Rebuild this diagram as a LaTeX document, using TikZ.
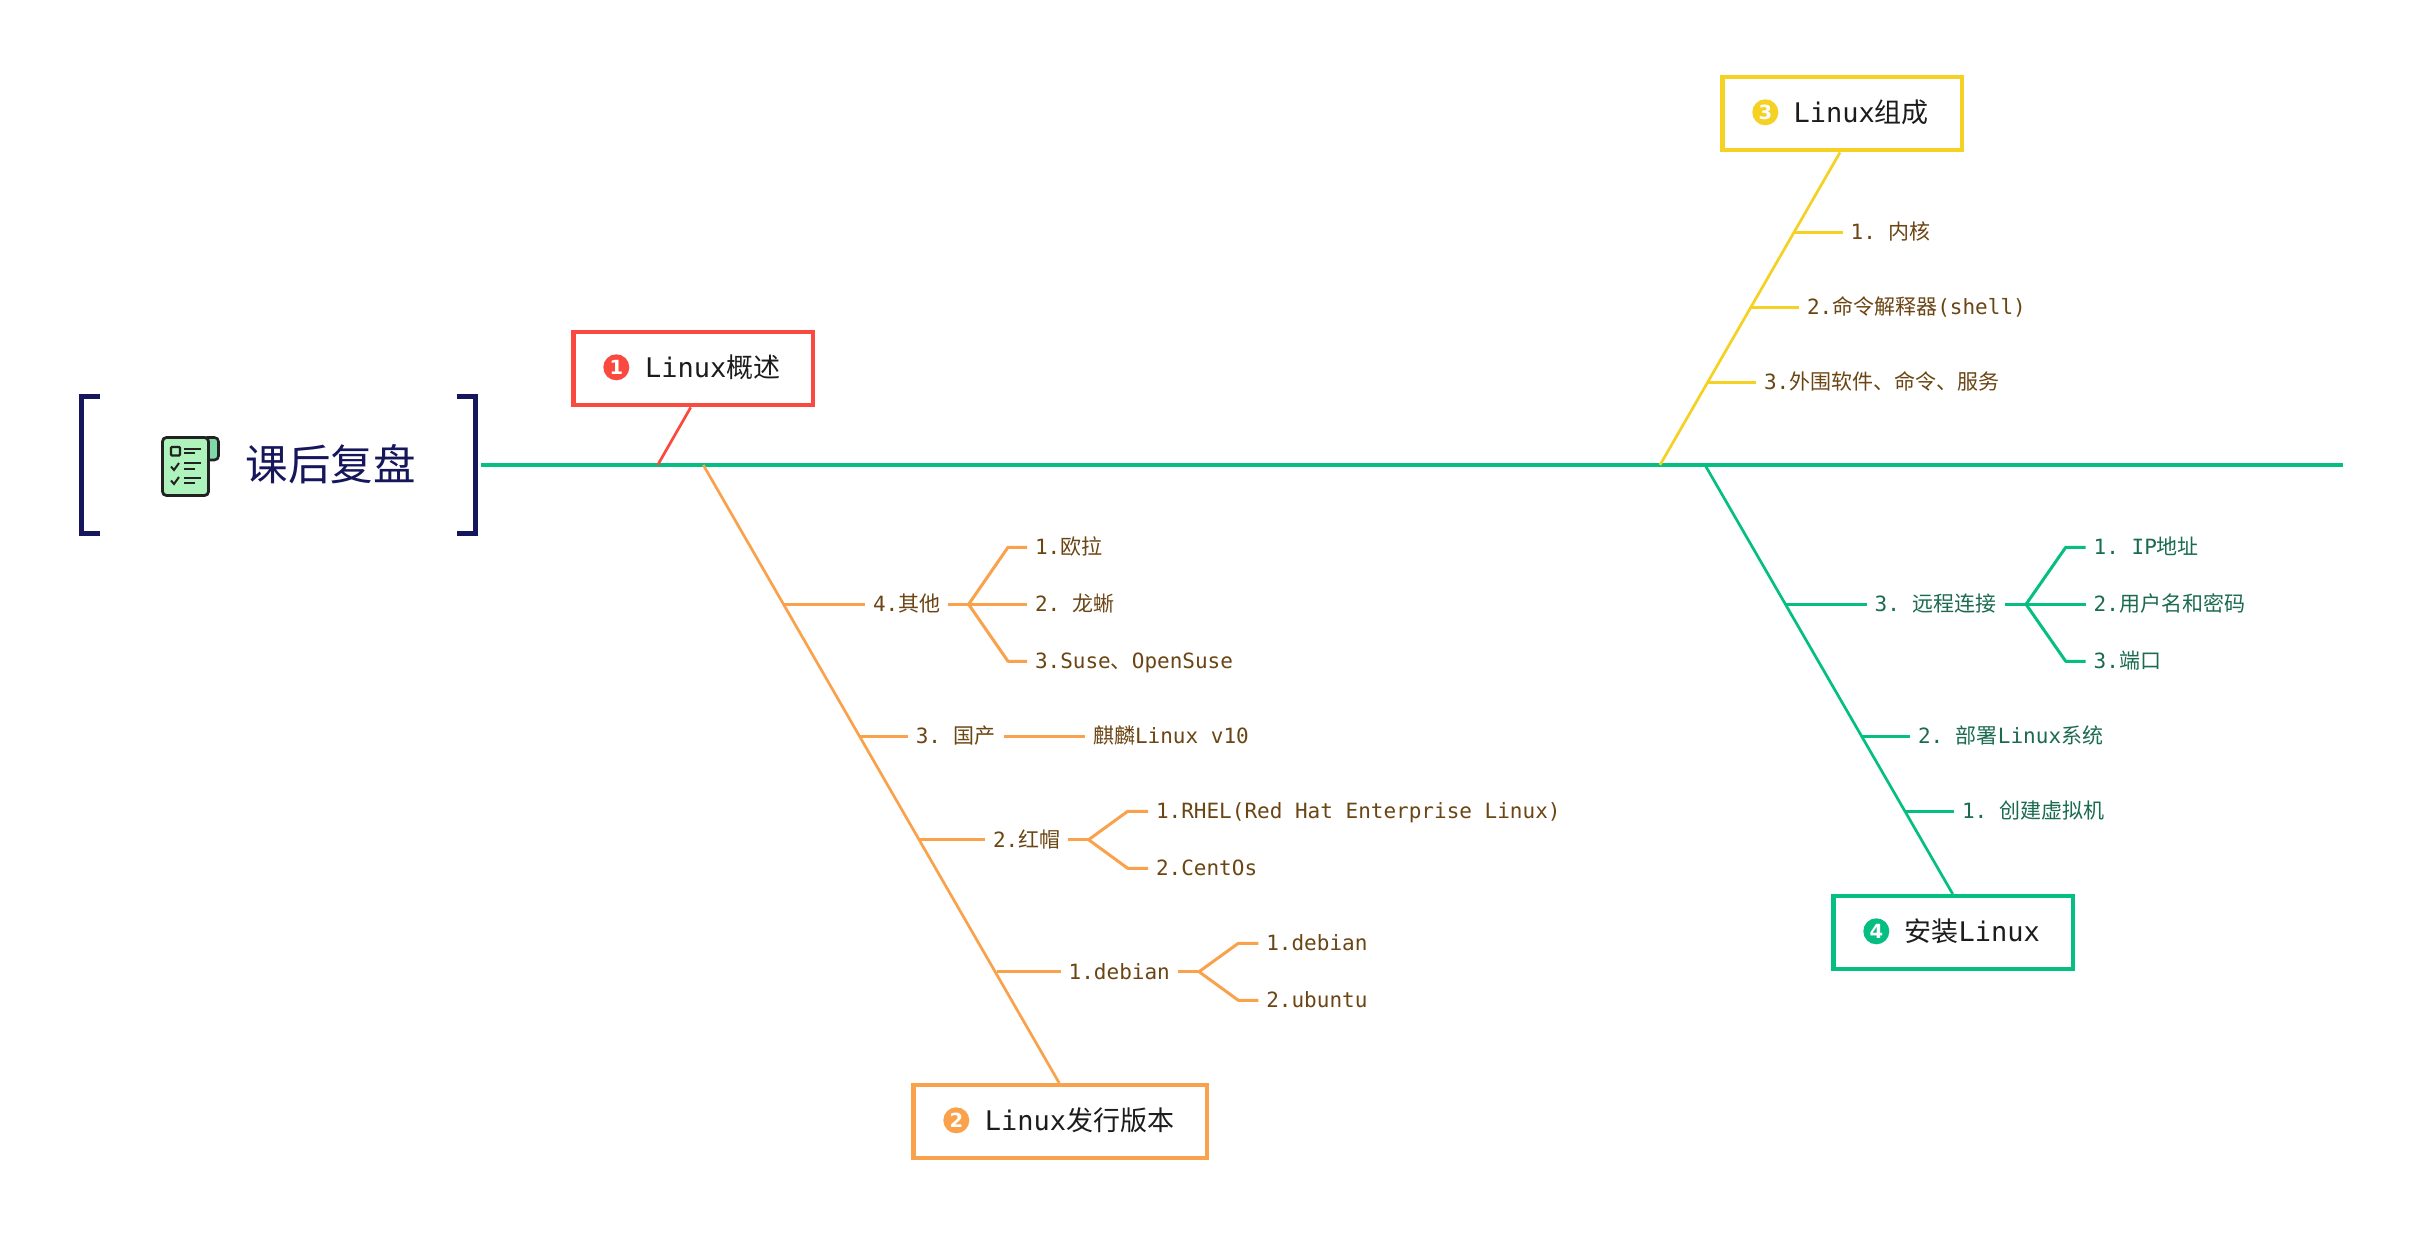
\documentclass[tikz,border=0pt]{standalone}
\usepackage{fontspec}
\setmainfont{DejaVu Sans Mono}
\newfontfamily\cjk{Noto Sans CJK SC}
\newfontfamily\dgt{DejaVu Sans}[BoldFont={DejaVu Sans Bold}]
\newcommand{\cn}[1]{{\cjk #1}}
\frenchspacing
\definecolor{cred}{HTML}{FA4A40}
\definecolor{corange}{HTML}{F9A24B}
\definecolor{cyellow}{HTML}{F4D122}
\definecolor{cgreen}{HTML}{05BE82}
\definecolor{cnavy}{HTML}{16165C}
\definecolor{tbrown}{HTML}{6B4513}
\definecolor{tgreen}{HTML}{1B6B4F}
\definecolor{tdark}{HTML}{1C1C1C}
\definecolor{icofill}{HTML}{AEF2BC}
\definecolor{icofold}{HTML}{7FD8A8}
\definecolor{icoline}{HTML}{222222}
\tikzset{
  lab/.style={anchor=west,inner xsep=8pt,inner ysep=0pt,outer sep=0pt,
    text height=18pt,text depth=3pt,font=\fontsize{21}{25}\selectfont},
  labbrown/.style={lab,text=tbrown},
  labgreen/.style={lab,text=tgreen},
  mainbox/.style={draw=#1,line width=4.4pt,fill=white,inner sep=0pt,outer sep=2.2pt,minimum height=73pt},
  mainlab/.style={anchor=west,inner sep=0pt,text=tdark,text height=23pt,text depth=3.6pt,
    font=\fontsize{27}{30}\selectfont},
  numdot/.style={circle,fill=#1,text=white,inner sep=0pt,minimum size=26pt,
    font=\dgt\bfseries\fontsize{19.5}{20}\selectfont},
  bone/.style={draw=#1,line width=2.7pt},
  rib/.style={draw=#1,line width=3pt,line join=round},
  icoln/.style={draw=icoline,line width=2pt},
}
\begin{document}
\begin{tikzpicture}[x=1pt,y=-1pt]
\useasboundingbox[fill=white] (0,0) rectangle (2419,1233);

% title block
\node[minimum width=398.7pt,minimum height=141.4pt,inner sep=0pt,outer sep=0pt] (titlebox) at (278.3,465) {};
\draw[cnavy,line width=5pt,line cap=butt] ([xshift=21pt,yshift=-2.5pt]titlebox.north west) -| ([xshift=2.5pt]titlebox.west) |- ([xshift=21pt,yshift=2.5pt]titlebox.south west);
\draw[cnavy,line width=5pt,line cap=butt] ([xshift=-21pt,yshift=-2.5pt]titlebox.north east) -| ([xshift=-2.5pt]titlebox.east) |- ([xshift=-21pt,yshift=2.5pt]titlebox.south east);
\node[text=cnavy,inner sep=0pt,font=\cjk\fontsize{42.5}{45}\selectfont] (title) at (330.7,464.3) {课后复盘};

% checklist icon
\filldraw[fill=icofold,draw=icoline,line width=2.6pt,rounded corners=4pt] (203,437.5) -- (218.5,437.5) -- (218.5,460) -- (203,460) -- cycle;
\filldraw[fill=icofill,draw=icoline,line width=2.8pt,rounded corners=4pt] (162.5,437.5) rectangle (208.5,495.5);
\draw[icoline,line width=2.2pt,rounded corners=1pt] (171,447) rectangle (180,455.5);
\draw[icoln] (184,448.7) -- (200.5,448.7) (184,453.3) -- (195,453.3);
\draw[icoln] (171,466.5) -- (174,470) -- (179,463);
\draw[icoln] (184,463.3) -- (200.5,463.3) (184,468.7) -- (195,468.7);
\draw[icoln] (171,480.5) -- (174,484) -- (179,477);
\draw[icoln] (184,478.3) -- (200.5,478.3) (184,483.3) -- (195,483.3);

% spine
\coordinate (spineend) at (2343,465);
\draw[draw=cgreen,line width=3.2pt,shorten <=3pt] (titlebox.east) -- (spineend);

% main boxes
\node[mainbox=cred,minimum width=239.4pt] (b1) at (693.2,368.7) {};
\node[mainbox=corange,minimum width=293.4pt] (b2) at (1060.2,1121.7) {};
\node[mainbox=cyellow,minimum width=239.4pt] (b3) at (1842.2,113.7) {};
\node[mainbox=cgreen,minimum width=239.4pt] (b4) at (1953.2,932.7) {};

\node[numdot=cred] (d1) at (616.3,367.3) {1};
\node[mainlab] (t1) at (644.8,367.5) {Linux\cn{概述}};
\node[numdot=corange] (d2) at (956.3,1120.3) {2};
\node[mainlab] (t2) at (984.7,1120.5) {Linux\cn{发行版本}};
\node[numdot=cyellow] (d3) at (1765.3,112.3) {3};
\node[mainlab] (t3) at (1793.3,112.5) {Linux\cn{组成}};
\node[numdot=cgreen] (d4) at (1876.3,931.3) {4};
\node[mainlab] (t4) at (1904.5,931.5) {\cn{安装}Linux};

% bones
\coordinate (j1) at (657.7,465);
\coordinate (j2) at (703.3,465);
\coordinate (j3) at (1660,465);
\coordinate (j4) at (1705,465);
\draw[bone=cred] (j1) -- ([xshift=-2.5pt]b1.south);
\draw[bone=corange] (j2) -- ([xshift=-1pt]b2.north);
\draw[bone=cyellow] (j3) -- ([xshift=-2.2pt]b3.south);
\draw[bone=cgreen] (j4) -- ([xshift=-0.5pt]b4.north);

% orange branches
\coordinate (o4) at (783,604.3);
\coordinate (o3) at (859.6,736.3);
\coordinate (o2) at (919,839.7);
\coordinate (o1) at (996.7,971.7);
\node[labbrown] (o4t) at (865,604.3) {4.\cn{其他}};
\node[labbrown] (o4a) at (1027,547.3) {1.\cn{欧拉}};
\node[labbrown] (o4b) at (1027,604.3) {2. \cn{龙蜥}};
\node[labbrown] (o4c) at (1027,661.3) {3.Suse\cn{、}OpenSuse};
\coordinate (o4f) at (968.6,604.3);
\coordinate (o4u) at (1008,547.3);
\coordinate (o4d) at (1008,661.3);
\draw[rib=corange] (o4) -- (o4t.west);
\draw[rib=corange] (o4t.east) -- (o4f);
\draw[rib=corange] (o4f) -- (o4u) -- (o4a.west);
\draw[rib=corange] (o4f) -- (o4b.west);
\draw[rib=corange] (o4f) -- (o4d) -- (o4c.west);

\node[labbrown] (o3t) at (907.8,736.3) {3. \cn{国产}};
\node[labbrown] (o3a) at (1085,736.3) {\cn{麒麟}Linux v10};
\draw[rib=corange] (o3) -- (o3t.west);
\draw[rib=corange] (o3t.east) -- (o3a.west);

\node[labbrown] (o2t) at (985,839.7) {2.\cn{红帽}};
\node[labbrown] (o2a) at (1148,811.3) {1.RHEL(Red Hat Enterprise Linux)};
\node[labbrown] (o2b) at (1148,868.3) {2.CentOs};
\coordinate (o2f) at (1088.6,839.7);
\coordinate (o2u) at (1127.7,811.3);
\coordinate (o2d) at (1127.7,868.3);
\draw[rib=corange] (o2) -- (o2t.west);
\draw[rib=corange] (o2t.east) -- (o2f);
\draw[rib=corange] (o2f) -- (o2u) -- (o2a.west);
\draw[rib=corange] (o2f) -- (o2d) -- (o2b.west);

\node[labbrown] (o1t) at (1060.7,971.7) {1.debian};
\node[labbrown] (o1a) at (1258.3,943.3) {1.debian};
\node[labbrown] (o1b) at (1258.3,1000.3) {2.ubuntu};
\coordinate (o1f) at (1199,971.7);
\coordinate (o1u) at (1238.3,943.3);
\coordinate (o1d) at (1238.3,1000.3);
\draw[rib=corange] (o1) -- (o1t.west);
\draw[rib=corange] (o1t.east) -- (o1f);
\draw[rib=corange] (o1f) -- (o1u) -- (o1a.west);
\draw[rib=corange] (o1f) -- (o1d) -- (o1b.west);

% yellow branches
\coordinate (y1) at (1794,232.3);
\coordinate (y2) at (1750.7,307);
\coordinate (y3) at (1707.7,382.3);
\node[labbrown] (y1t) at (1842.7,232.3) {1. \cn{内核}};
\node[labbrown] (y2t) at (1799,307) {2.\cn{命令解释器}(shell)};
\node[labbrown] (y3t) at (1756,382.3) {3.\cn{外围软件、命令、服务}};
\draw[rib=cyellow] (y1) -- (y1t.west);
\draw[rib=cyellow] (y2) -- (y2t.west);
\draw[rib=cyellow] (y3) -- (y3t.west);

% green branches
\coordinate (g3) at (1785,604.3);
\coordinate (g2) at (1861.6,736.3);
\coordinate (g1) at (1905,811.3);
\node[labgreen] (g3t) at (1866.7,604.3) {3. \cn{远程连接}};
\node[labgreen] (g3a) at (2085.7,547.3) {1. IP\cn{地址}};
\node[labgreen] (g3b) at (2085.7,604.3) {2.\cn{用户名和密码}};
\node[labgreen] (g3c) at (2085.7,661.3) {3.\cn{端口}};
\coordinate (g3f) at (2026,604.3);
\coordinate (g3u) at (2065.7,547.3);
\coordinate (g3d) at (2065.7,661.3);
\draw[rib=cgreen] (g3) -- (g3t.west);
\draw[rib=cgreen] (g3t.east) -- (g3f);
\draw[rib=cgreen] (g3f) -- (g3u) -- (g3a.west);
\draw[rib=cgreen] (g3f) -- (g3b.west);
\draw[rib=cgreen] (g3f) -- (g3d) -- (g3c.west);
\node[labgreen] (g2t) at (1910,736.3) {2. \cn{部署}Linux\cn{系统}};
\node[labgreen] (g1t) at (1954,811.3) {1. \cn{创建虚拟机}};
\draw[rib=cgreen] (g2) -- (g2t.west);
\draw[rib=cgreen] (g1) -- (g1t.west);
\end{tikzpicture}
\end{document}
